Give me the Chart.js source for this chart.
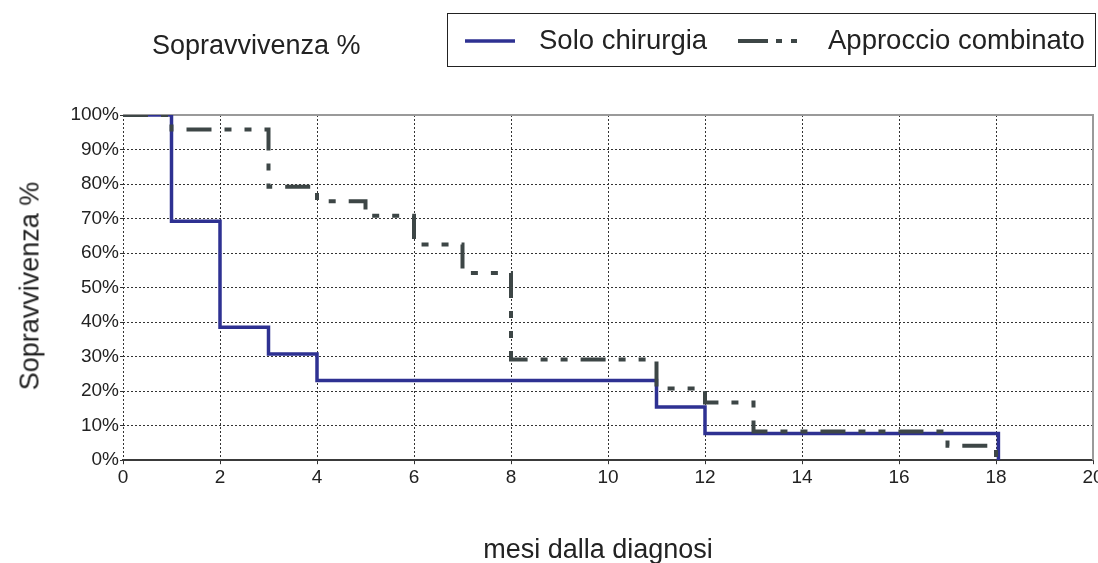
<!DOCTYPE html>
<html>
<head>
<meta charset="utf-8">
<script src="https://cdn.jsdelivr.net/npm/chart.js@4.4.0/dist/chart.umd.min.js"></script>
<style>
  html, body { margin: 0; padding: 0; background: #ffffff; }
  #wrap { position: relative; width: 1098px; height: 563px; overflow: hidden;
          font-family: "Liberation Sans", Arial, Helvetica, sans-serif; color: #222; }
  #c { position: absolute; left: 0; top: 0; }
  .txt { position: absolute; white-space: nowrap; line-height: 1; }
  #title { left: 152px; top: 32px; font-size: 27px; }
  #xtitle { left: 598px; top: 536px; font-size: 27px; transform: translateX(-50%); }
  #ytitle { left: 30px; top: 286px; font-size: 27px; transform: translate(-50%, -50%) rotate(-90deg); }
  #legend { position: absolute; left: 447px; top: 13px; width: 649px; height: 54px;
            border: 1.5px solid #222; box-sizing: border-box; }
  .lg-item { position: absolute; top: 0; height: 100%; }
  .lg-item svg { position: absolute; top: 24px; }
  .lg-item span { position: absolute; top: 12px; font-size: 27.5px; white-space: nowrap; line-height: 1; }
</style>
</head>
<body>
<div id="wrap">
  <canvas id="c" width="1098" height="563"></canvas>
  <div id="title" class="txt"></div>
  <div id="ytitle" class="txt"></div>
  <div id="xtitle" class="txt"></div>
  <div id="legend"></div>
</div>
<script>
// ---- data ----
const chartTitle = "Sopravvivenza %";
const yAxisTitle = "Sopravvivenza %";
const xAxisTitle = "mesi dalla diagnosi";
const seriesNames = ["Solo chirurgia", "Approccio combinato"];

// Solo chirurgia (step changes: month, survival %)
const soloMonths = [0, 1, 2, 3, 4, 11, 12, 18.05];
const soloSurv   = [100, 69.2, 38.5, 30.8, 23.1, 15.4, 7.7, 0];

// Approccio combinato
const combMonths = [0, 1, 3, 4, 5, 6, 7, 8, 11, 12, 13, 17, 18];
const combSurv   = [100, 95.8, 79.2, 75, 70.8, 62.5, 54.2, 29.2, 20.8, 16.7, 8.3, 4.2, 0];

const xTicks = [0, 2, 4, 6, 8, 10, 12, 14, 16, 18, 20];
const yTicks = [0, 10, 20, 30, 40, 50, 60, 70, 80, 90, 100];

// ---- styles ----
const soloColor = "#2e3192";
const combColor = "#3d4646";
const combDash = [25, 13, 7, 13, 7, 13];

document.getElementById("title").textContent = chartTitle;
document.getElementById("ytitle").textContent = yAxisTitle;
document.getElementById("xtitle").textContent = xAxisTitle;

// legend (HTML, built from the series names)
const legend = document.getElementById("legend");
const lgDefs = [
  { name: seriesNames[0], x: 17, w: 50, textX: 91, color: soloColor, dash: "", sw: 3.5 },
  { name: seriesNames[1], x: 290, w: 62, textX: 380, color: combColor, dash: "30 8 6 9 6 20", sw: 4 }
];
lgDefs.forEach(d => {
  const item = document.createElement("div");
  item.className = "lg-item";
  item.style.left = "0px";
  item.style.width = "100%";
  const svg = `<svg width="${d.w}" height="6" style="left:${d.x}px"><line x1="0" y1="3" x2="${d.w}" y2="3" stroke="${d.color}" stroke-width="${d.sw}" ${d.dash ? `stroke-dasharray="${d.dash}"` : ""}/></svg>`;
  item.innerHTML = svg + `<span style="left:${d.textX}px">${d.name}</span>`;
  legend.appendChild(item);
});

const toPts = (xs, ys) => xs.map((x, i) => ({ x: x, y: ys[i] }));

// top/right frame of the plot area
const framePlugin = {
  id: "frame",
  beforeDatasetsDraw(chart) {
    const { ctx, chartArea: a } = chart;
    ctx.save();
    ctx.strokeStyle = "#9a9a9a";
    ctx.lineWidth = 2;
    ctx.beginPath();
    ctx.moveTo(a.left, a.top);
    ctx.lineTo(a.right, a.top);
    ctx.lineTo(a.right, a.bottom);
    ctx.stroke();
    ctx.restore();
  }
};

const fontFam = '"Liberation Sans", Arial, Helvetica, sans-serif';

new Chart(document.getElementById("c"), {
  type: "line",
  data: {
    datasets: [
      {
        label: seriesNames[0],
        data: toPts(soloMonths, soloSurv),
        borderColor: soloColor,
        borderWidth: 3.5,
        stepped: true,
        pointRadius: 0,
        fill: false,
        order: 1
      },
      {
        label: seriesNames[1],
        data: toPts(combMonths, combSurv),
        borderColor: combColor,
        borderWidth: 4,
        borderDash: combDash,
        borderCapStyle: "butt",
        stepped: true,
        pointRadius: 0,
        fill: false,
        order: 0
      }
    ]
  },
  options: {
    responsive: false,
    animation: false,
    devicePixelRatio: 1,
    layout: { padding: { left: 70, right: 5, top: 115, bottom: 72 } },
    plugins: { legend: { display: false }, tooltip: { enabled: false } },
    scales: {
      x: {
        type: "linear",
        min: 0, max: 20,
        afterBuildTicks: s => { s.ticks = xTicks.map(v => ({ value: v })); },
        afterFit: s => { s.paddingLeft = 0; s.paddingRight = 0; },
        ticks: { color: "#222", font: { family: fontFam, size: 19 }, padding: 2, maxRotation: 0 },
        grid: {
          color: ctx => (ctx.tick && ctx.tick.value === 20) ? "rgba(0,0,0,0)" : "#333",
          lineWidth: 1, tickLength: 4, tickColor: "#333"
        },
        border: { display: true, color: "#3a3a3a", width: 2, dash: [2, 2] }
      },
      y: {
        min: 0, max: 100,
        afterBuildTicks: s => { s.ticks = yTicks.map(v => ({ value: v })); },
        afterFit: s => { s.width = 53; s.paddingTop = 0; s.paddingBottom = 0; },
        ticks: { color: "#222", font: { family: fontFam, size: 19 }, padding: 1, callback: v => v + "%" },
        grid: {
          color: ctx => (ctx.tick && (ctx.tick.value === 100 || ctx.tick.value === 0)) ? "rgba(0,0,0,0)" : "#333",
          lineWidth: 1, tickLength: 3, tickColor: "#333"
        },
        border: { display: false, dash: [2, 2] }
      }
    }
  },
  plugins: [framePlugin]
});
</script>
</body>
</html>
